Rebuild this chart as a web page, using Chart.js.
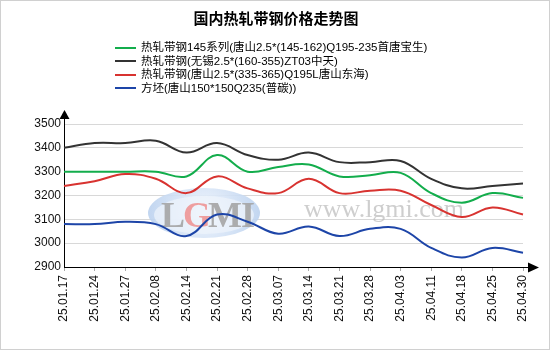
<!DOCTYPE html>
<html>
<head>
<meta charset="utf-8">
<script src="https://cdn.jsdelivr.net/npm/chart.js@4/dist/chart.umd.min.js"></script>
<style>
  html, body { margin: 0; padding: 0; background: #fff; }
  #frame {
    position: absolute; left: 0; top: 0; width: 548px; height: 348px;
    border: 1px solid #d0d0d0; overflow: hidden;
  }
  #chart { position: absolute; left: 0; top: 0; }
  #title {
    position: absolute; left: 0; top: 7px; width: 550px; text-align: center;
    font: bold 15px "Noto Sans CJK SC", sans-serif; line-height: 20px; color: #000;
  }
  #legend {
    position: absolute; left: 114px; top: 40px;
    font: 11.5px "Liberation Sans", "Noto Sans CJK SC", sans-serif; color: #000;
  }
  .row { height: 13.5px; line-height: 13.5px; white-space: nowrap; display: flex; align-items: center; }
  .sw { display: inline-block; width: 21px; height: 2px; margin-right: 5px; }
</style>
</head>
<body>
<div id="frame">
  <canvas id="chart" width="550" height="350"></canvas>
  <div id="title">国内热轧带钢价格走势图</div>
  <div id="legend"></div>
</div>
<script>
// Weekly quote dates
const dates = ["25.01.17","25.01.24","25.01.27","25.02.08","25.02.14","25.02.21","25.02.28","25.03.07",
               "25.03.14","25.03.21","25.03.28","25.04.03","25.04.11","25.04.18","25.04.25","25.04.30"];

// Series names
const seriesNames = [
  "热轧带钢145系列(唐山2.5*(145-162)Q195-235首唐宝生)",
  "热轧带钢(无锡2.5*(160-355)ZT03中天)",
  "热轧带钢(唐山2.5*(335-365)Q195L唐山东海)",
  "方坯(唐山150*150Q235(普碳))"
];

// Prices, yuan/ton
const tangshan145 = [3300,3300,3300,3300,3280,3370,3300,3320,3330,3280,3285,3295,3210,3170,3210,3190];
const wuxiZT03    = [3400,3420,3420,3430,3380,3420,3370,3350,3380,3340,3340,3345,3270,3230,3240,3250];
const tangshanQ195L = [3240,3260,3290,3270,3210,3280,3230,3210,3270,3210,3220,3220,3160,3110,3150,3120];
const billet150   = [3080,3080,3090,3080,3030,3120,3090,3040,3070,3030,3060,3060,2980,2940,2980,2960];

// Y axis ticks
const yTicks = [2900,3000,3100,3200,3300,3400,3500];

const colors = ["#13ad4c", "#333333", "#d83330", "#1d45a8"];
const seriesValues = [tangshan145, wuxiZT03, tangshanQ195L, billet150];

// HTML legend
const legendEl = document.getElementById("legend");
seriesNames.forEach((name, i) => {
  const row = document.createElement("div");
  row.className = "row";
  const sw = document.createElement("span");
  sw.className = "sw";
  sw.style.background = colors[i];
  const txt = document.createElement("span");
  txt.textContent = name;
  row.appendChild(sw);
  row.appendChild(txt);
  legendEl.appendChild(row);
});

// Watermark behind the lines, arrows on the axes
const watermark = {
  id: "watermark",
  beforeDatasetsDraw(chart) {
    const ctx = chart.ctx;
    ctx.save();
    // oval logo
    const cx = 203, cy = 212;
    const g = ctx.createRadialGradient(cx, cy, 5, cx, cy, 58);
    g.addColorStop(0, "rgba(235,242,252,0.9)");
    g.addColorStop(1, "rgba(185,208,238,0.9)");
    ctx.beginPath();
    ctx.ellipse(cx, cy, 56, 25, 0, 0, Math.PI * 2);
    ctx.fillStyle = g;
    ctx.fill();
    ctx.beginPath();
    ctx.ellipse(cx, cy + 2, 50, 19, 0, 0, Math.PI * 2);
    ctx.fillStyle = "rgba(240,245,252,0.7)";
    ctx.fill();
    ctx.font = "bold 36px 'Liberation Serif'";
    ctx.textBaseline = "alphabetic";
    ctx.textAlign = "left";
    ctx.fillStyle = "rgba(165,165,165,0.9)";
    ctx.fillText("L", 160, 226);
    ctx.fillStyle = "rgba(238,150,150,0.9)";
    ctx.fillText("G", 182, 226);
    ctx.fillStyle = "rgba(165,165,165,0.9)";
    ctx.fillText("M", 207, 226);
    ctx.fillText("I", 240, 226);
    // site address
    ctx.font = "26px 'Liberation Serif'";
    ctx.fillStyle = "rgba(190,190,190,0.75)";
    ctx.fillText("www.lgmi.com", 303, 216);
    ctx.restore();
  },
  afterDraw(chart) {
    const ctx = chart.ctx;
    const a = chart.chartArea;
    ctx.save();
    ctx.strokeStyle = "#000";
    ctx.fillStyle = "#000";
    ctx.lineWidth = 1;
    ctx.beginPath();
    ctx.moveTo(a.left + 0.5, a.top);
    ctx.lineTo(a.left + 0.5, a.top - 6);
    ctx.stroke();
    ctx.beginPath();
    ctx.moveTo(a.left + 0.5, a.top - 14);
    ctx.lineTo(a.left - 4.5, a.top - 5);
    ctx.lineTo(a.left + 5.5, a.top - 5);
    ctx.closePath();
    ctx.fill();
    ctx.beginPath();
    ctx.moveTo(a.right, a.bottom + 0.5);
    ctx.lineTo(a.right + 6, a.bottom + 0.5);
    ctx.stroke();
    ctx.beginPath();
    ctx.moveTo(a.right + 16, a.bottom + 0.5);
    ctx.lineTo(a.right + 5, a.bottom - 4.5);
    ctx.lineTo(a.right + 5, a.bottom + 5.5);
    ctx.closePath();
    ctx.fill();
    ctx.restore();
  }
};

new Chart(document.getElementById("chart"), {
  type: "line",
  data: {
    labels: dates,
    datasets: seriesNames.map((name, i) => ({
      label: name,
      data: seriesValues[i],
      borderColor: colors[i],
      borderWidth: 2,
      pointRadius: 0,
      tension: 0.4,
      fill: false
    }))
  },
  options: {
    responsive: false,
    animation: false,
    layout: { padding: { left: 0, top: 123, right: 28, bottom: 0 } },
    plugins: { legend: { display: false }, title: { display: false }, tooltip: { enabled: false } },
    scales: {
      x: {
        offset: false,
        grid: { drawOnChartArea: false, drawTicks: true, tickLength: 4, color: "#aaa" },
        border: { color: "#000", width: 1 },
        ticks: {
          minRotation: 90, maxRotation: 90, autoSkip: false, padding: 4,
          font: { family: "Liberation Sans", size: 12 }, color: "#111"
        },
        afterFit(s) { s.height = 84; }
      },
      y: {
        min: 2900, max: 3500,
        afterBuildTicks(s) { s.ticks = yTicks.map(v => ({ value: v })); },
        grid: { color: "#d8d8d8", drawTicks: false },
        border: { color: "#000", width: 1 },
        ticks: {
          padding: 3, font: { family: "Liberation Sans", size: 12 }, color: "#111",
          callback: v => String(v)
        },
        afterFit(s) { s.width = 63; }
      }
    }
  },
  plugins: [watermark]
});
</script>
</body>
</html>
